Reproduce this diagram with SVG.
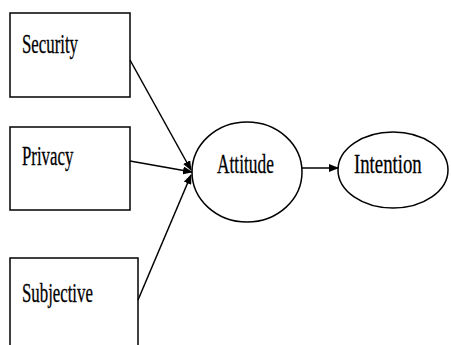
<svg xmlns="http://www.w3.org/2000/svg" width="451" height="345" viewBox="0 0 451 345">
<defs>
<style>
.box{fill:#fff;stroke:#000;stroke-width:1.5}
.ell{fill:#fff;stroke:#000;stroke-width:1.5}
.lbl{font-family:"Liberation Serif","Times New Roman",serif;font-size:28px;fill:#000;stroke:#000;stroke-width:0.3}
.con{stroke:#000;stroke-width:1.5;fill:none;marker-end:url(#ah)}
</style>
<marker id="ah" markerWidth="10" markerHeight="8" refX="9" refY="4" orient="auto" markerUnits="userSpaceOnUse">
<path d="M0,0 L10,4 L0,8 Z" fill="#000"/>
</marker>
</defs>
<rect width="451" height="345" fill="#fff"/>
<g id="security">
<rect class="box" x="10" y="13" width="120" height="84"/>
<text class="lbl" transform="translate(22,53) scale(0.6,1)">Security</text>
</g>
<g id="privacy">
<rect class="box" x="10" y="127" width="120" height="83"/>
<text class="lbl" transform="translate(22,165) scale(0.6,1)">Privacy</text>
</g>
<g id="subjective">
<rect class="box" x="10" y="258" width="128" height="100"/>
<text class="lbl" transform="translate(22,302) scale(0.6,1)">Subjective</text>
</g>
<g id="attitude">
<ellipse class="ell" cx="247" cy="172" rx="55" ry="50"/>
<text class="lbl" transform="translate(217,173) scale(0.62,1)">Attitude</text>
</g>
<g id="intention">
<ellipse class="ell" cx="393" cy="170" rx="55" ry="38"/>
<text class="lbl" transform="translate(354,173) scale(0.67,1)">Intention</text>
</g>
<g id="connectors">
<line class="con" x1="130" y1="60" x2="191" y2="170"/>
<line class="con" x1="130" y1="161" x2="192" y2="172"/>
<line class="con" x1="138" y1="300" x2="191" y2="175"/>
<line class="con" x1="302" y1="168" x2="338" y2="168"/>
</g>
</svg>
